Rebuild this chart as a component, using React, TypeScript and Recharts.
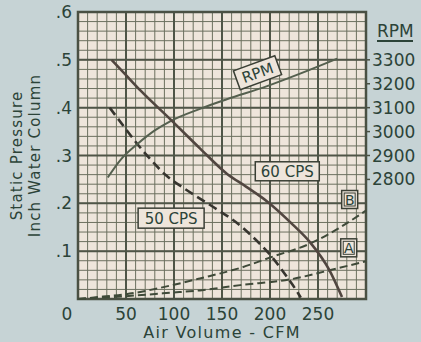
import React from "react";
import {
  ComposedChart,
  Line,
  XAxis,
  YAxis,
  CartesianGrid,
  ReferenceDot,
  ReferenceArea,
  Label,
} from "recharts";

// fan curves: static pressure (in. water) against air volume (CFM)
const cps60Cfm = [35, 50, 65, 96, 127, 155, 175, 197, 224, 242, 262, 275];
const cps60Pressure = [0.5, 0.468, 0.436, 0.376, 0.315, 0.262, 0.235, 0.204, 0.155, 0.118, 0.06, 0.004];

const cps50Cfm = [33, 48, 61, 75, 92, 110, 127, 145, 165, 182, 202, 217, 229, 232];
const cps50Pressure = [0.4, 0.36, 0.326, 0.293, 0.258, 0.232, 0.21, 0.187, 0.16, 0.13, 0.088, 0.048, 0.013, 0.003];

// system resistance curves
const sysBCfm = [0, 26, 50, 96, 127, 169, 202, 242, 270, 300];
const sysBPressure = [0, 0.005, 0.01, 0.028, 0.043, 0.065, 0.088, 0.116, 0.146, 0.185];

const sysACfm = [0, 26, 50, 96, 127, 169, 221, 262, 300];
const sysAPressure = [0, 0.003, 0.006, 0.013, 0.018, 0.029, 0.041, 0.06, 0.079];

// fan speed at 60 CPS, read on the right-hand scale
const rpmCfm = [31, 45, 61, 80, 96, 127, 155, 197, 230, 270];
const rpmValues = [2808, 2885, 2945, 3005, 3043, 3095, 3135, 3190, 3240, 3305];

const cfmTicks = [0, 50, 100, 150, 200, 250];
const pressureTicks = [0.1, 0.2, 0.3, 0.4, 0.5, 0.6];
const rpmTicks = [2800, 2900, 3000, 3100, 3200, 3300];

const minorCfm = Array.from({ length: 29 }, (_, i) => (i + 1) * 10);
const minorPressure = Array.from({ length: 29 }, (_, i) => +((i + 1) * 0.02).toFixed(2));
const majorCfm = [50, 100, 150, 200, 250];
const majorPressure = [0.1, 0.2, 0.3, 0.4, 0.5];

const zip = (xs: number[], ys: number[], key: string) =>
  xs.map((x, i) => ({ cfm: x, [key]: ys[i] }));

const cps60 = zip(cps60Cfm, cps60Pressure, "p");
const cps50 = zip(cps50Cfm, cps50Pressure, "p");
const sysB = zip(sysBCfm, sysBPressure, "p");
const sysA = zip(sysACfm, sysAPressure, "p");
const rpm = zip(rpmCfm, rpmValues, "rpm");

const INK = "#2c4338";
const FONT = "'DejaVu Sans', sans-serif";
const PAPER = "#eee5db";

const XTick = (props: any) => {
  const { x, y, payload } = props;
  return (
    <text
      x={payload.value === 0 ? x - 11 : x}
      y={y}
      dy="0.71em"
      textAnchor="middle"
      fill={INK}
      fontSize={17}
      fontFamily={FONT}
    >
      {payload.value}
    </text>
  );
};

const Tag = (props: any) => {
  const { cx, cy, text, w, h, angle = 0, double = false, size = 15 } = props;
  return (
    <g transform={`translate(${cx},${cy}) rotate(${angle})`}>
      <rect x={-w / 2} y={-h / 2} width={w} height={h} fill={PAPER} stroke="#3a3f35" strokeWidth={1.5} />
      {double && (
        <rect x={-w / 2 + 2.5} y={-h / 2 + 2.5} width={w - 5} height={h - 5} fill="none" stroke="#3a3f35" strokeWidth={1} />
      )}
      <text x={0} y={0} dy="0.36em" textAnchor="middle" fill={INK} fontSize={size} fontFamily={FONT}>
        {text}
      </text>
    </g>
  );
};

const PressureTitle = (props: any) => {
  const { viewBox } = props;
  const cy = viewBox.y + viewBox.height / 2;
  const style = { fontSize: 15, fontFamily: FONT, fill: INK, letterSpacing: 1.2 };
  return (
    <g>
      <text x={17} y={cy} transform={`rotate(-90 17 ${cy})`} textAnchor="middle" dy="0.36em" {...style}>
        Static Pressure
      </text>
      <text x={35} y={cy} transform={`rotate(-90 35 ${cy})`} textAnchor="middle" dy="0.36em" {...style}>
        Inch Water Column
      </text>
    </g>
  );
};

const RpmTitle = (props: any) => {
  const { viewBox } = props;
  const x = viewBox.x + 11;
  return (
    <g>
      <text x={x} y={37} fill={INK} fontSize={17} fontFamily={FONT}>
        RPM
      </text>
      <line x1={x} x2={x + 36} y1={41} y2={41} stroke={INK} strokeWidth={2} />
    </g>
  );
};

const CfmTitle = (props: any) => {
  const { viewBox } = props;
  return (
    <text
      x={viewBox.x + viewBox.width / 2}
      y={viewBox.y + 39}
      textAnchor="middle"
      fill={INK}
      fontSize={16}
      fontFamily={FONT}
      letterSpacing={1.3}
    >
      Air Volume - CFM
    </text>
  );
};

export default function App() {
  return (
    <div style={{ position: "absolute", left: 0, top: 0, width: 421, height: 342, background: "#c6d3d5" }}>
      <ComposedChart width={421} height={342} margin={{ top: 12, right: 0, bottom: 13, left: 0 }}>
        <CartesianGrid
          xAxisId="cfm"
          yAxisId="p"
          fill={PAPER}
          stroke="#6c705f"
          strokeWidth={1}
          verticalValues={minorCfm}
          horizontalValues={minorPressure}
        />
        <CartesianGrid
          xAxisId="cfm"
          yAxisId="p"
          stroke="#4f5547"
          strokeWidth={2}
          verticalValues={majorCfm}
          horizontalValues={majorPressure}
        />
        <ReferenceArea
          xAxisId="cfm"
          yAxisId="p"
          x1={0}
          x2={300}
          y1={0}
          y2={0.6}
          fill="none"
          stroke="#4a5043"
          strokeWidth={2.5}
        />
        <XAxis
          xAxisId="cfm"
          dataKey="cfm"
          type="number"
          domain={[0, 300]}
          ticks={cfmTicks}
          interval={0}
          axisLine={false}
          tickLine={false}
          tickSize={6}
          tickMargin={3}
          height={30}
          tick={<XTick />}
        >
          <Label content={<CfmTitle />} />
        </XAxis>
        <YAxis
          yAxisId="p"
          type="number"
          domain={[0, 0.6]}
          ticks={pressureTicks}
          interval={0}
          axisLine={false}
          tickLine={false}
          tickSize={4}
          tickMargin={2}
          width={78}
          tickFormatter={(v: number) => v.toFixed(1).replace(/^0/, "")}
          tick={{ fill: INK, fontSize: 17, fontFamily: FONT }}
        >
          <Label content={<PressureTitle />} />
        </YAxis>
        <YAxis
          yAxisId="rpm"
          orientation="right"
          type="number"
          domain={[2300, 3500]}
          ticks={rpmTicks}
          interval={0}
          axisLine={false}
          tickLine={{ stroke: "#4a5043", strokeWidth: 1.5 }}
          tickSize={4}
          tickMargin={2}
          width={55}
          tick={{ fill: INK, fontSize: 17, fontFamily: FONT }}
        >
          <Label content={<RpmTitle />} />
        </YAxis>

        <Line
          xAxisId="cfm"
          yAxisId="p"
          data={sysB}
          dataKey="p"
          type="monotone"
          stroke="#3f4a39"
          strokeWidth={2}
          strokeDasharray="8 4"
          dot={false}
          isAnimationActive={false}
        />
        <Line
          xAxisId="cfm"
          yAxisId="p"
          data={sysA}
          dataKey="p"
          type="monotone"
          stroke="#3f4a39"
          strokeWidth={2}
          strokeDasharray="8 4"
          dot={false}
          isAnimationActive={false}
        />
        <Line
          xAxisId="cfm"
          yAxisId="p"
          data={cps50}
          dataKey="p"
          type="monotone"
          stroke="#37352f"
          strokeWidth={2.6}
          strokeDasharray="9 5"
          dot={false}
          isAnimationActive={false}
        />
        <Line
          xAxisId="cfm"
          yAxisId="rpm"
          data={rpm}
          dataKey="rpm"
          type="monotone"
          stroke="#55604f"
          strokeWidth={2}
          dot={false}
          isAnimationActive={false}
        />
        <Line
          xAxisId="cfm"
          yAxisId="p"
          data={cps60}
          dataKey="p"
          type="monotone"
          stroke="#514640"
          strokeWidth={2.6}
          dot={false}
          isAnimationActive={false}
        />

        <ReferenceDot xAxisId="cfm" yAxisId="p" x={187} y={0.473} r={0}
          shape={(p: any) => <Tag {...p} text="RPM" w={44} h={20} angle={-20} />} />
        <ReferenceDot xAxisId="cfm" yAxisId="p" x={218} y={0.267} r={0}
          shape={(p: any) => <Tag {...p} text="60 CPS" w={64} h={19} />} />
        <ReferenceDot xAxisId="cfm" yAxisId="p" x={97} y={0.169} r={0}
          shape={(p: any) => <Tag {...p} text="50 CPS" w={66} h={20} />} />
        <ReferenceDot xAxisId="cfm" yAxisId="p" x={283} y={0.208} r={0}
          shape={(p: any) => <Tag {...p} text="B" w={16} h={18} double size={14} />} />
        <ReferenceDot xAxisId="cfm" yAxisId="p" x={282} y={0.107} r={0}
          shape={(p: any) => <Tag {...p} text="A" w={16} h={18} double size={14} />} />
      </ComposedChart>
    </div>
  );
}
